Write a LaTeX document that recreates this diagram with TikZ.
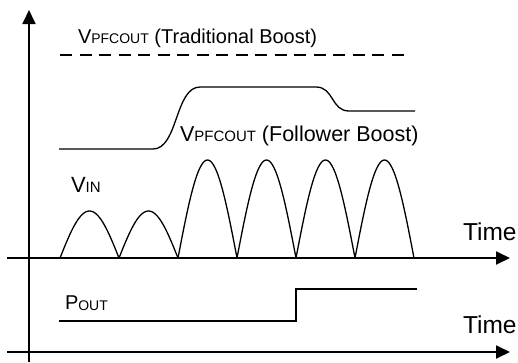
\documentclass[tikz,border=0pt]{standalone}
\usepackage{fontspec}
\setmainfont{Liberation Sans}
\usetikzlibrary{arrows.meta}
\newcommand\mysubx[2]{{\fontsize{#1}{#1}\selectfont #2}}
\tikzset{
  axisline/.style={line width=1.8pt,-{Triangle[length=14pt,width=13pt]}},
  wave/.style={line width=1.3pt},
  lbl/.style={anchor=base west,inner sep=0pt,outer sep=0pt}
}
\begin{document}
\begin{tikzpicture}[x=1pt,y=-1pt]
\useasboundingbox (0,0) rectangle (518,362);
% axes
\coordinate (yb) at (29,362);
\coordinate (yt) at (29,10);
\coordinate (a1l) at (7,258);
\coordinate (a1r) at (510,258);
\coordinate (a2l) at (7,352);
\coordinate (a2r) at (510,352);
\draw[axisline] (yb) -- (yt);
\draw[axisline] (a1l) -- (a1r);
\draw[axisline] (a2l) -- (a2r);
% traditional boost (dashed)
\coordinate (d1) at (60,55);
\coordinate (d2) at (408,55);
\draw[wave,dash pattern=on 12pt off 7.5pt] (d1) -- (d2);
\node[lbl,font=\fontsize{20}{24}\selectfont] (trad) at (78,43) {V\mysubx{14}{PFCOUT} (Traditional Boost)};
% follower boost
\draw[wave] (59,149) -- (153,149) .. controls (178,149) and (175,87) .. (200,87) -- (316,87)
  .. controls (334,87) and (331,111) .. (349,111) -- (415,111);
\node[lbl,font=\fontsize{21.5}{24}\selectfont] (foll) at (180,141) {V\mysubx{15}{PFCOUT} (Follower Boost)};
% VIN humps
\foreach \xa/\hh in {60/47,119/47,178/98,237/98,296/98,355/98}{
  \draw[wave] plot[domain=0:180,samples=41] ({\xa+59*\x/180},{258-\hh*sin(\x)});
}
\node[lbl,font=\fontsize{22}{24}\selectfont] (vin) at (71,192) {V\mysubx{15}{IN}};
\node[lbl,font=\fontsize{24.5}{26}\selectfont] (t1) at (463,240) {Time};
% POUT
\draw[wave] (59,321) -- (296,321) -- (296,289) -- (417,289);
\node[lbl,font=\fontsize{20}{24}\selectfont] (pout) at (65,309) {P\raisebox{-1pt}{\mysubx{14}{OUT}}};
\node[lbl,font=\fontsize{24.5}{26}\selectfont] (t2) at (463,333) {Time};
\end{tikzpicture}
\end{document}
